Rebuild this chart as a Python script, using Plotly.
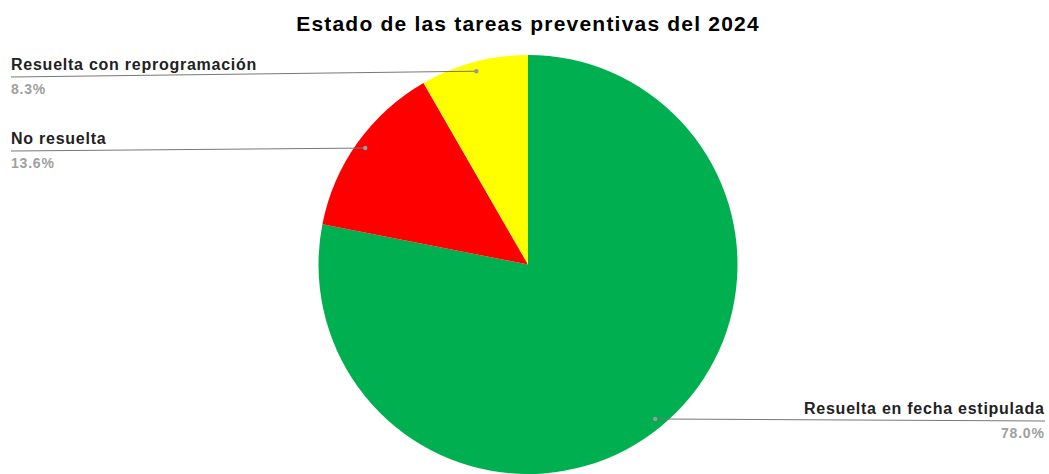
import math
import plotly.graph_objects as go

labels = ["Resuelta en fecha estipulada", "No resuelta", "Resuelta con reprogramación"]
values = [78.0, 13.6, 8.3]
colors = ["#00AF50", "#FF0000", "#FFFF00"]
pct_text = ["78.0%", "13.6%", "8.3%"]
title_text = "Estado de las tareas preventivas del 2024"

W, H = 1049, 474
cx_pix = 528
dom_y = [0.0, 0.884]
R = (dom_y[1] - dom_y[0]) * H / 2
cy_pix = H - (dom_y[0] + dom_y[1]) / 2 * H
half_x = R / W
dom_x = [cx_pix / W - half_x, cx_pix / W + half_x]

fig = go.Figure(go.Pie(
    labels=labels, values=values, sort=False, direction="clockwise", rotation=0,
    marker=dict(colors=colors, line=dict(width=0)),
    textinfo="none", hoverinfo="label+percent", showlegend=False,
    domain=dict(x=dom_x, y=dom_y),
))

# label anchor positions (pixels): line end x, line y, side, text x
anchors = [(1045, 421, "right", 1047), (11, 151, "left", 9), (11, 77, "left", 9)]

def spaced(s, sp):
    return '<span style="letter-spacing:%spx">%s</span>' % (sp, s)

total = sum(values)
cum = 0.0
shapes = []
annotations = []
px = lambda x: x / W
py = lambda y: 1 - y / H
for i, v in enumerate(values):
    mid = (cum + v / 2) / total * 2 * math.pi
    cum += v
    r = R * 0.955
    dx = cx_pix + math.sin(mid) * r
    dy = cy_pix - math.cos(mid) * r
    ax, ay, side, tx = anchors[i]
    shapes.append(dict(type="line", xref="paper", yref="paper",
                       x0=px(dx), y0=py(dy), x1=px(ax), y1=py(ay),
                       line=dict(color="#777777", width=1)))
    shapes.append(dict(type="circle", xref="paper", yref="paper",
                       x0=px(dx - 2.2), x1=px(dx + 2.2), y0=py(dy - 2.2), y1=py(dy + 2.2),
                       fillcolor="#999999", line=dict(width=0)))
    annotations.append(dict(xref="paper", yref="paper", x=px(tx), y=py(ay - 2.5),
                            xanchor=side, yanchor="bottom", showarrow=False,
                            text="<b>" + spaced(labels[i], 0.75) + "</b>",
                            font=dict(family="Liberation Sans", size=16, color="#222222")))
    annotations.append(dict(xref="paper", yref="paper", x=px(tx), y=py(ay + 1.5),
                            xanchor=side, yanchor="top", showarrow=False,
                            text="<b>" + spaced(pct_text[i], 0.8) + "</b>",
                            font=dict(family="Liberation Sans", size=14, color="#A0A0A0")))

fig.update_layout(
    width=W, height=H, margin=dict(l=0, r=0, t=0, b=0),
    paper_bgcolor="white", plot_bgcolor="white",
    title=dict(text="<b>" + spaced(title_text, 1.2) + "</b>", x=cx_pix / W, xanchor="center",
               y=1 - 24 / H, yanchor="middle",
               font=dict(family="Liberation Sans", size=21, color="#000000")),
    shapes=shapes, annotations=annotations,
)
fig.write_html("out.html")
